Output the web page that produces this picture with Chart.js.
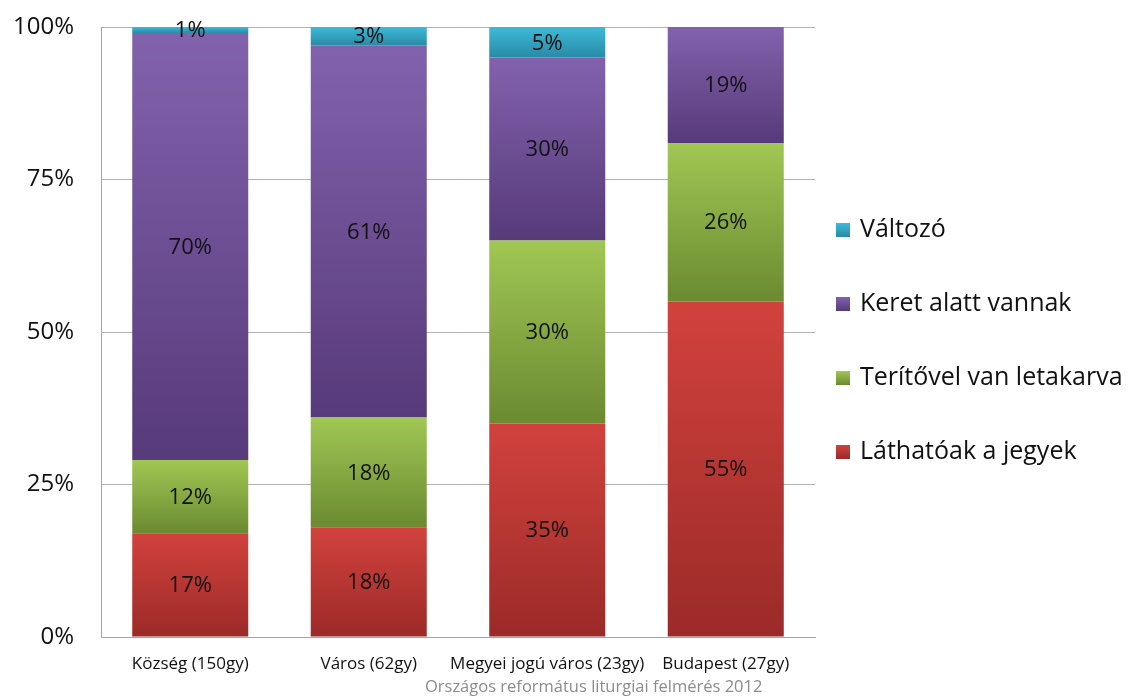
<!DOCTYPE html>
<html>
<head>
<meta charset="utf-8">
<script src="https://cdn.jsdelivr.net/npm/chart.js@4.4.1/dist/chart.umd.min.js"></script>
<style>
    html, body { margin: 0; padding: 0; background: #fff; }
    #wrap { width: 1133px; height: 697px; position: relative; }
</style>
</head>
<body>
<div id="wrap"><canvas id="chart"></canvas></div>
<script>
const categories = ['Község (150gy)', 'Város (62gy)', 'Megyei jogú város (23gy)', 'Budapest (27gy)'];
const seriesNames = ['Láthatóak a jegyek', 'Terítővel van letakarva', 'Keret alatt vannak', 'Változó'];
const lathatoak = [17, 18, 35, 55];
const teritovel = [12, 18, 30, 26];
const keret = [70, 61, 30, 19];
const valtozo = [1, 3, 5, 0];
const yTicks = [0, 25, 50, 75, 100];
const caption = 'Országos református liturgiai felmérés 2012';

const seriesValues = [lathatoak, teritovel, keret, valtozo];
const palette = [
    { top: '#d2423d', bottom: '#9b2a28' },
    { top: '#a1c754', bottom: '#6b8a31' },
    { top: '#8262ad', bottom: '#573a7a' },
    { top: '#3cbad9', bottom: '#2a8aa5' }
];

const FONT = '"Open Sans", Lato, sans-serif';

// each stacked piece gets its own light-to-dark gradient
const segmentFill = (ds) => (ctx) => {
    const chart = ctx.chart;
    const col = palette[ds];
    if (ctx.type !== 'data' || !chart.chartArea) return col.top;
    const i = ctx.dataIndex;
    let base = 0;
    for (let k = 0; k < ds; k++) base += seriesValues[k][i];
    const y = chart.scales.y;
    const yTop = y.getPixelForValue(base + seriesValues[ds][i]);
    const yBot = y.getPixelForValue(base);
    if (!isFinite(yTop) || !isFinite(yBot) || yTop === yBot) return col.top;
    const g = chart.ctx.createLinearGradient(0, yTop, 0, yBot);
    g.addColorStop(0, col.top);
    g.addColorStop(1, col.bottom);
    return g;
};

const valueLabels = {
    id: 'valueLabels',
    afterDatasetsDraw(chart) {
        const { ctx } = chart;
        ctx.save();
        ctx.font = '22px ' + FONT;
        ctx.fillStyle = '#111';
        ctx.textAlign = 'center';
        ctx.textBaseline = 'middle';
        chart.data.datasets.forEach((ds, d) => {
            const meta = chart.getDatasetMeta(d);
            meta.data.forEach((bar, i) => {
                const v = ds.data[i];
                if (!v) return;
                const mid = (bar.y + bar.base) / 2;
                ctx.fillText(v + '%', bar.x, mid + 1);
            });
        });
        ctx.restore();
    }
};

// legend drawn by hand, to the right of the plot, top entry = last series
const sideLegend = {
    id: 'sideLegend',
    afterDraw(chart) {
        const { ctx, chartArea } = chart;
        const step = 74;
        const n = seriesNames.length;
        const cy = (chartArea.top + chartArea.bottom) / 2 + 9;
        const x0 = chartArea.right + 21;
        ctx.save();
        ctx.font = '25px ' + FONT;
        ctx.textBaseline = 'middle';
        ctx.textAlign = 'left';
        for (let r = 0; r < n; r++) {
            const d = n - 1 - r;
            const y = cy + (r - (n - 1) / 2) * step;
            const g = ctx.createLinearGradient(0, y - 7, 0, y + 7);
            g.addColorStop(0, palette[d].top);
            g.addColorStop(1, palette[d].bottom);
            ctx.fillStyle = g;
            ctx.fillRect(x0, y - 7, 14, 14);
            ctx.fillStyle = '#111';
            ctx.fillText(seriesNames[d], x0 + 24, y);
        }
        ctx.restore();
    }
};

const captionPlugin = {
    id: 'captionPlugin',
    afterDraw(chart) {
        const { ctx, chartArea } = chart;
        ctx.save();
        ctx.font = '16.5px ' + FONT;
        ctx.fillStyle = '#8c8c8c';
        ctx.textAlign = 'center';
        ctx.textBaseline = 'middle';
        ctx.fillText(caption, chartArea.left + chartArea.width * 0.69, chart.height - 10);
        ctx.restore();
    }
};

new Chart(document.getElementById('chart'), {
    type: 'bar',
    data: {
        labels: categories,
        datasets: seriesNames.map((name, d) => ({
            label: name,
            data: seriesValues[d],
            backgroundColor: segmentFill(d),
            borderWidth: 0,
            categoryPercentage: 0.65,
            barPercentage: 1
        }))
    },
    options: {
        responsive: true,
        maintainAspectRatio: false,
        animation: false,
        layout: { padding: { top: 27, right: 318, bottom: 14, left: 10 } },
        plugins: {
            legend: { display: false },
            tooltip: { enabled: false }
        },
        scales: {
            x: {
                stacked: true,
                grid: { display: false },
                border: { color: '#a6a6a6' },
                afterFit: (axis) => { axis.height = 46; },
                ticks: { font: { family: FONT, size: 17 }, color: '#111', padding: 9, maxRotation: 0, autoSkip: false }
            },
            y: {
                stacked: true,
                min: 0,
                max: 100,
                afterBuildTicks: (axis) => { axis.ticks = yTicks.map(v => ({ value: v })); },
                afterFit: (axis) => {
                    axis.width = 91;
                    axis.paddingTop = 0;
                    axis.paddingBottom = 0;
                },
                grid: { color: '#b3b3b3', drawTicks: false },
                border: { color: '#a6a6a6' },
                ticks: {
                    font: { family: FONT, size: 24 },
                    color: '#111',
                    padding: 27,
                    callback: (v) => v + '%'
                }
            }
        }
    },
    plugins: [valueLabels, sideLegend, captionPlugin]
});
</script>
</body>
</html>
